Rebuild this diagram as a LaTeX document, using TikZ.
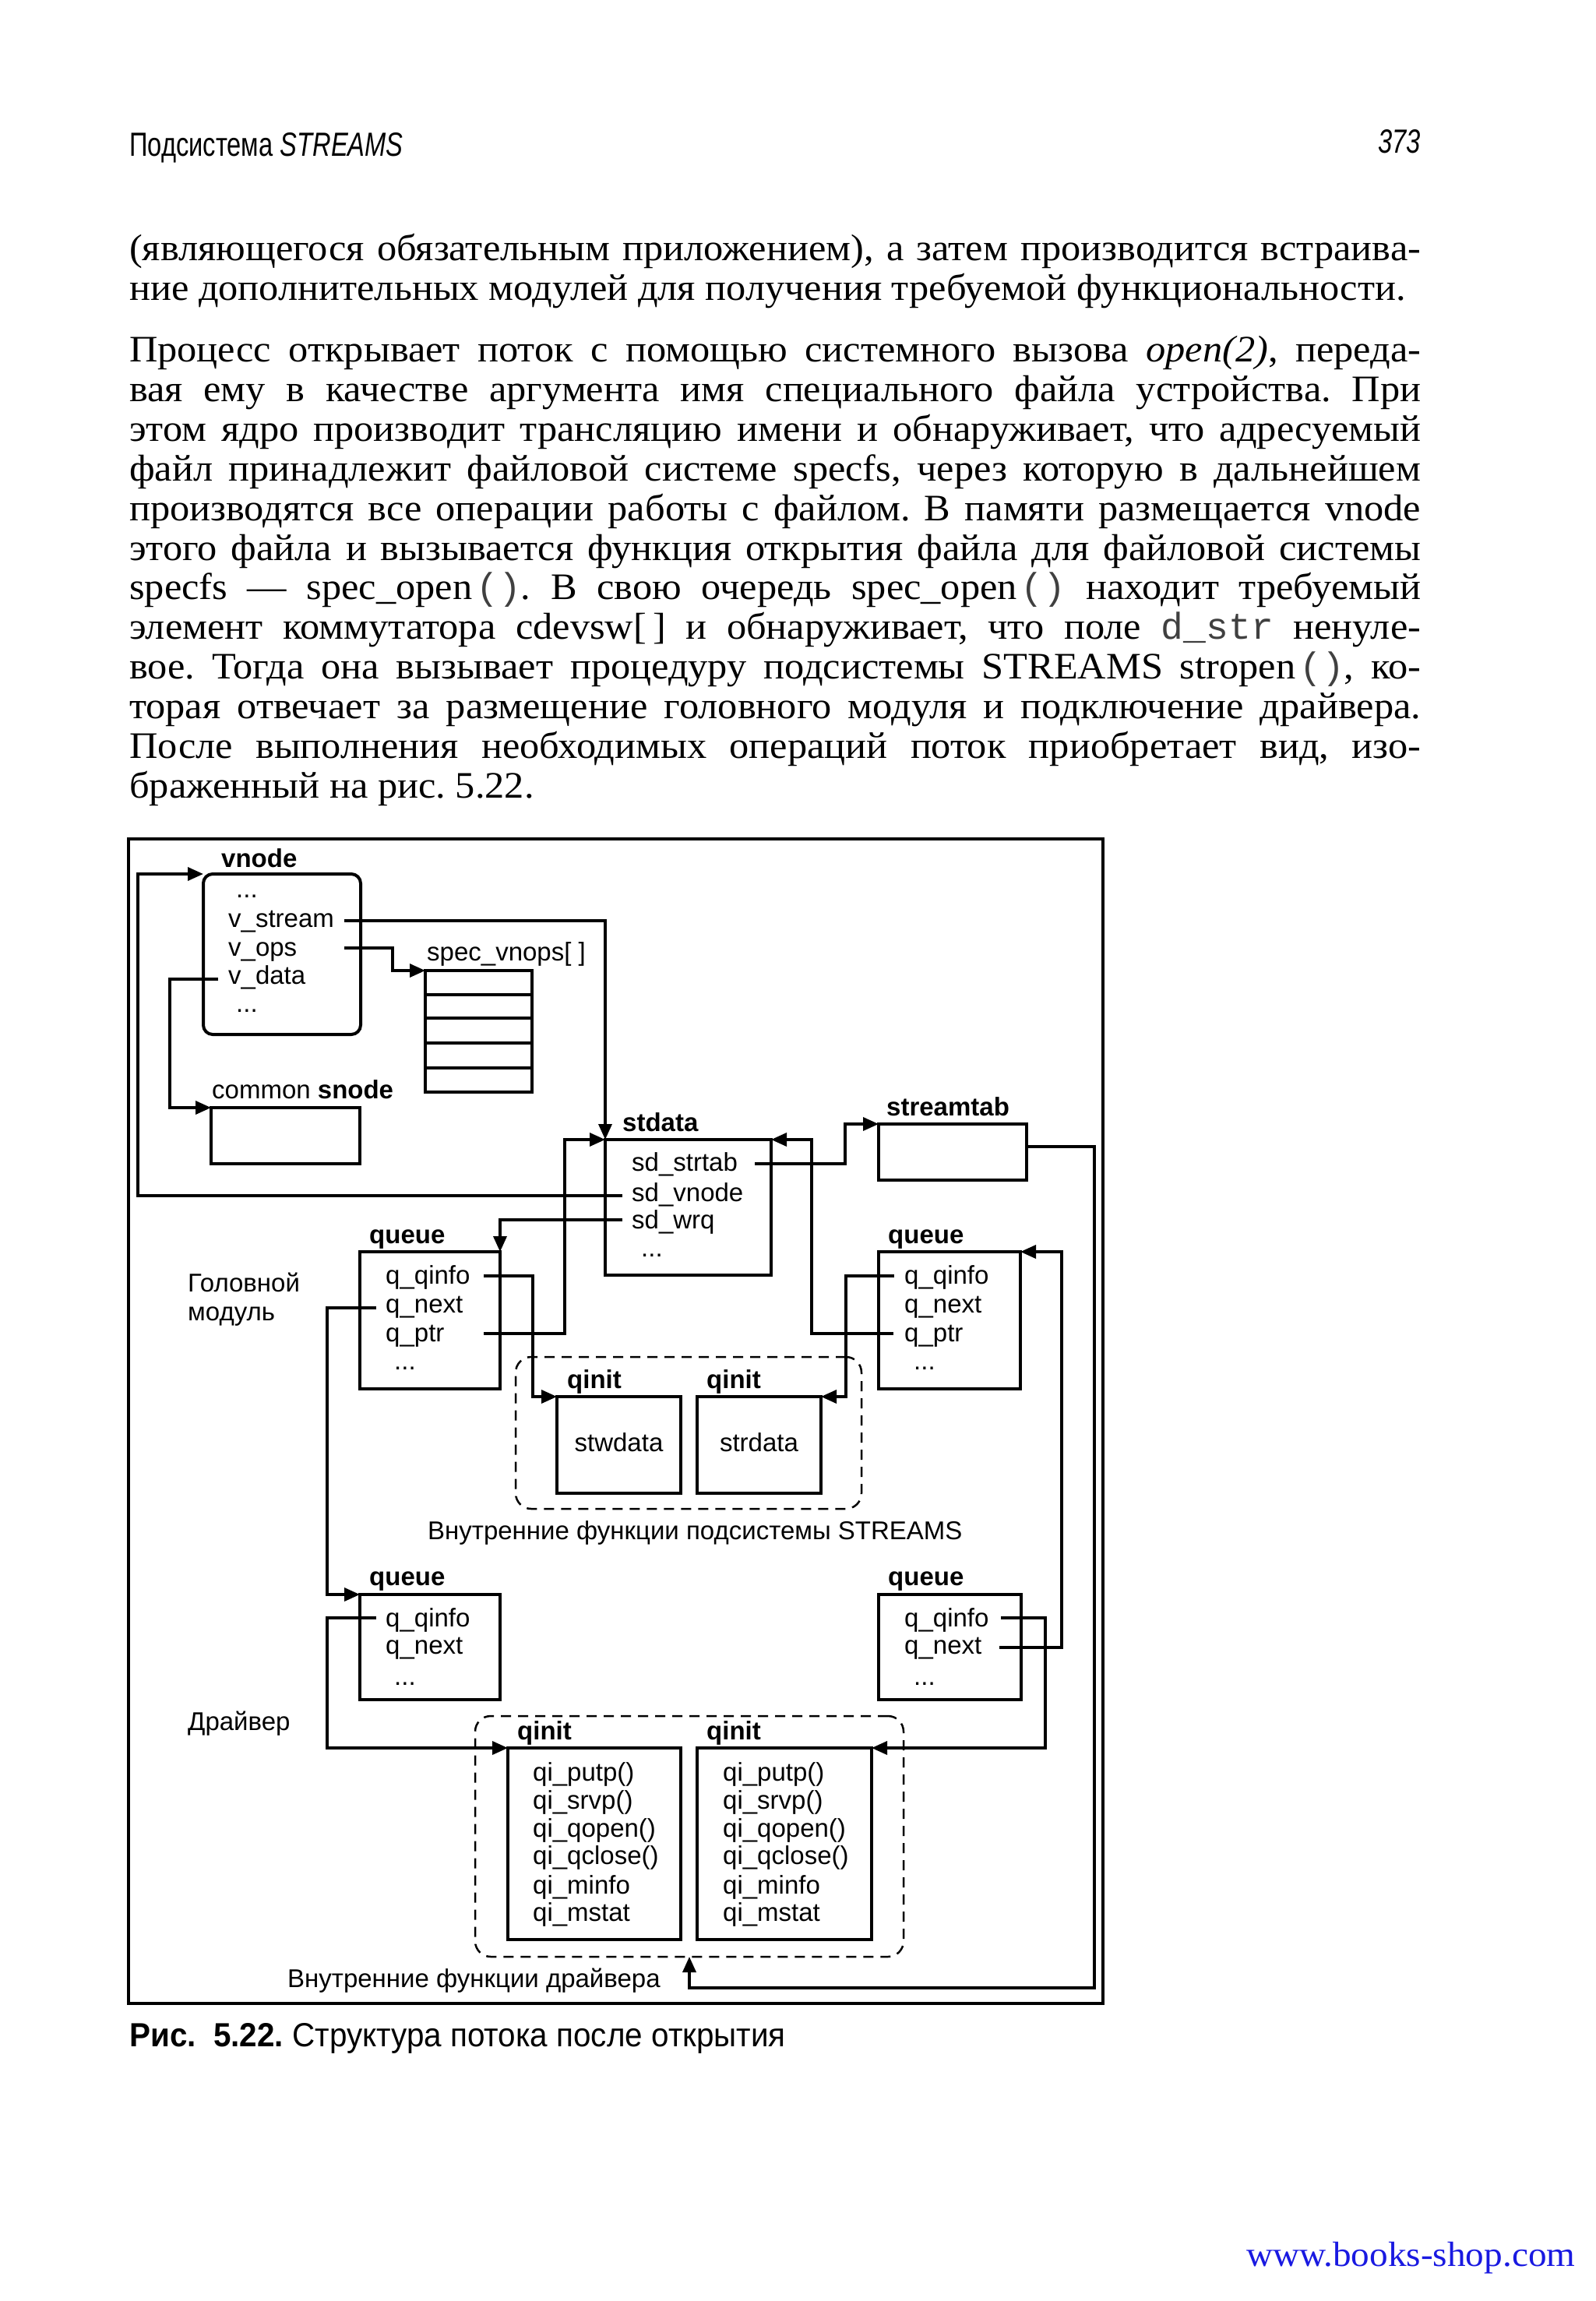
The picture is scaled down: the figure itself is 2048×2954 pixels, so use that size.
\documentclass[tikz,border=0pt]{standalone}
\usepackage{fontspec}
\setmainfont[FakeStretch=1.05]{Liberation Serif}
\newfontfamily\dsans{Liberation Sans}
\newfontfamily\hdrfont[FakeStretch=0.76]{Liberation Sans}
\newfontfamily\capfont[FakeStretch=0.94]{Liberation Sans}
\newfontfamily\monof{Liberation Mono}
\usetikzlibrary{arrows.meta,calc}
\definecolor{urlblue}{RGB}{25,25,225}
\frenchspacing
\tikzset{
 dtext/.style={inner sep=0pt, anchor=base west, font=\dsans\fontsize{33}{36}\selectfont},
 dbold/.style={inner sep=0pt, anchor=base west, font=\dsans\bfseries\fontsize{33}{36}\selectfont},
 boxnode/.style={draw, line width=4pt, inner sep=0pt, outer sep=0pt, anchor=north west},
 dashbox/.style={draw, line width=2.5pt, dash pattern=on 13pt off 9pt, rounded corners=20pt, inner sep=0pt, outer sep=0pt, anchor=north west},
 conn/.style={line width=3.5pt, -{Triangle[length=20pt,width=17pt]}},
 body/.style={inner sep=0pt, anchor=base west, font=\fontsize{48}{51}\selectfont},
}
\newcommand\jl[1]{\makebox[1658pt][s]{#1}}
\newcommand\pr{\kern5pt{\monof\color{black!75}()}}
\begin{document}
\begin{tikzpicture}[x=1pt,y=-1pt]
\fill[white] (0,0) rectangle (2048,2954);
\useasboundingbox (0,0) rectangle (2048,2954);

% ---------- page header ----------
\node[inner sep=0pt, anchor=base west, font=\hdrfont\fontsize{43}{43}\selectfont] (hdr) at (166,201) {Подсистема \textit{STREAMS}};
\node[inner sep=0pt, anchor=base east, font=\hdrfont\fontsize{43}{43}\selectfont] (pgno) at (1824,197) {\textit{373}};

% ---------- body text ----------
\node[body] (p1a) at (166,334) {\jl{(являющегося обязательным приложением), а затем производится встраива-}};
\node[body] (p1b) at (166,385) {ние дополнительных модулей для получения требуемой функциональности.};

\node[body] (p2a) at (166,464) {\jl{Процесс открывает поток с помощью системного вызова \textit{open(2)}, переда-}};
\node[body] (p2b) at (166,515) {\jl{вая ему в качестве аргумента имя специального файла устройства. При}};
\node[body] (p2c) at (166,566) {\jl{этом ядро производит трансляцию имени и обнаруживает, что адресуемый}};
\node[body] (p2d) at (166,617) {\jl{файл принадлежит файловой системе specfs, через которую в дальнейшем}};
\node[body] (p2e) at (166,668) {\jl{производятся все операции работы с файлом. В памяти размещается vnode}};
\node[body] (p2f) at (166,719) {\jl{этого файла и вызывается функция открытия файла для файловой системы}};
\node[body] (p2g) at (166,769) {\jl{specfs — spec\_open\pr. В свою очередь spec\_open\pr{} находит требуемый}};
\node[body] (p2h) at (166,820) {\jl{элемент коммутатора cdevsw[\,] и обнаруживает, что поле {\monof\color{black!75}d\_str} ненуле-}};
\node[body] (p2i) at (166,871) {\jl{вое. Тогда она вызывает процедуру подсистемы STREAMS stropen\pr, ко-}};
\node[body] (p2j) at (166,922) {\jl{торая отвечает за размещение головного модуля и подключение драйвера.}};
\node[body] (p2k) at (166,973) {\jl{После выполнения необходимых операций поток приобретает вид, изо-}};
\node[body] (p2l) at (166,1024) {браженный на рис. 5.22.};

% ---------- figure frame ----------
\draw[line width=4.5pt] (165,1077) rectangle (1416,2572);

% ---------- boxes ----------
\node[boxnode, rounded corners=12pt, minimum width=202pt, minimum height=206pt] (vnodeB) at (261,1122) {};
\node[boxnode, minimum width=137pt, minimum height=156pt] (specB) at (546,1246) {};
\foreach \yy in {1277,1307,1339,1371} \draw[line width=4pt] (546,\yy) -- (683,\yy);
\node[boxnode, minimum width=191pt, minimum height=72pt] (snodeB) at (271,1422) {};
\node[boxnode, minimum width=213pt, minimum height=174pt] (stdataB) at (777,1463) {};
\node[boxnode, minimum width=190pt, minimum height=72pt] (stabB) at (1128,1443) {};
\node[boxnode, minimum width=180pt, minimum height=176pt] (hqL) at (462,1607) {};
\node[boxnode, minimum width=182pt, minimum height=176pt] (hqR) at (1128,1607) {};
\node[boxnode, minimum width=159pt, minimum height=124pt] (stwB) at (715,1793) {};
\node[boxnode, minimum width=159pt, minimum height=124pt] (strB) at (895,1793) {};
\node[boxnode, minimum width=180pt, minimum height=135pt] (dqL) at (462,2047) {};
\node[boxnode, minimum width=183pt, minimum height=135pt] (dqR) at (1128,2047) {};
\node[boxnode, minimum width=222pt, minimum height=246pt] (diL) at (652,2244) {};
\node[boxnode, minimum width=224pt, minimum height=246pt] (diR) at (895,2244) {};
\node[dashbox, minimum width=444pt, minimum height=195pt] (sB) at (662,1742) {};
\node[dashbox, minimum width=550pt, minimum height=309pt] (dB) at (610,2203) {};

% ---------- texts ----------
\node[dbold] (tvnode) at (284,1113) {vnode};
\node[dtext] (vd1) at (303,1152) {...};
\node[dtext] (vstream) at (293,1190) {v\_stream};
\node[dtext] (vops) at (293,1227) {v\_ops};
\node[dtext] (vdata) at (293,1263) {v\_data};
\node[dtext] (vd2) at (303,1299) {...};
\node[dtext] (tspec) at (548,1233) {spec\_vnops[ ]};
\node[dtext] (tsnode) at (272,1410) {common \textbf{snode}};

\node[dbold] (tstdata) at (799,1452) {stdata};
\node[dtext] (sdstrtab) at (811,1503) {sd\_strtab};
\node[dtext] (sdvnode) at (811,1542) {sd\_vnode};
\node[dtext] (sdwrq) at (811,1577) {sd\_wrq};
\node[dtext] (sdd) at (823,1613) {...};
\node[dbold] (tstab) at (1138,1432) {streamtab};

\node[dtext] (tgol1) at (241,1658) {Головной};
\node[dtext] (tgol2) at (241,1695) {модуль};

\node[dbold] (thqL) at (474,1596) {queue};
\node[dtext] (hqLinfo) at (495,1648) {q\_qinfo};
\node[dtext] (hqLnext) at (495,1685) {q\_next};
\node[dtext] (hqLptr) at (495,1722) {q\_ptr};
\node[dtext] (hqLd) at (506,1758) {...};

\node[dbold] (thqR) at (1140,1596) {queue};
\node[dtext] (hqRinfo) at (1161,1648) {q\_qinfo};
\node[dtext] (hqRnext) at (1161,1685) {q\_next};
\node[dtext] (hqRptr) at (1161,1722) {q\_ptr};
\node[dtext] (hqRd) at (1173,1758) {...};

\node[dbold] (tqi1) at (728,1782) {qinit};
\node[dbold] (tqi2) at (907,1782) {qinit};
\node[dtext, anchor=base] (tstw) at (794.5,1863) {stwdata};
\node[dtext, anchor=base] (tstr) at (974.5,1863) {strdata};
\node[dtext] (tsfun) at (549,1976) {Внутренние функции подсистемы STREAMS};

\node[dbold] (tdqL) at (474,2035) {queue};
\node[dtext] (dqLinfo) at (495,2088) {q\_qinfo};
\node[dtext] (dqLnext) at (495,2123) {q\_next};
\node[dtext] (dqLd) at (506,2163) {...};

\node[dbold] (tdqR) at (1140,2035) {queue};
\node[dtext] (dqRinfo) at (1161,2088) {q\_qinfo};
\node[dtext] (dqRnext) at (1161,2123) {q\_next};
\node[dtext] (dqRd) at (1173,2163) {...};

\node[dtext] (tdrv) at (241,2221) {Драйвер};

\node[dbold] (tqi3) at (664,2233) {qinit};
\node[dbold] (tqi4) at (907,2233) {qinit};
\foreach \nm/\tx/\yy in {a/qi\_putp()/2286, b/qi\_srvp()/2322, c/qi\_qopen()/2358, d/qi\_qclose()/2393, e/qi\_minfo/2431, f/qi\_mstat/2466}{
  \node[dtext] (qiL\nm) at (684,\yy) {\tx};
  \node[dtext] (qiR\nm) at (928,\yy) {\tx};
}
\node[dtext] (tdfun) at (369,2551) {Внутренние функции драйвера};

% ---------- connector start points ----------
\coordinate (c-sdvnode) at (799,1535);
\coordinate (c-vstream) at (442,1182);
\coordinate (c-vops) at (442,1217);
\coordinate (c-vdata) at (280,1257);
\coordinate (c-sdstrtab) at (969,1494);
\coordinate (c-stab) at (1318,1472);
\coordinate (c-sdwrq) at (799,1566);
\coordinate (c-hqLinfo) at (621,1638);
\coordinate (c-hqLptr) at (621,1712);
\coordinate (c-hqLnext) at (483,1679);
\coordinate (c-hqRinfo) at (1148,1638);
\coordinate (c-hqRptr) at (1147,1712);
\coordinate (c-dqLinfo) at (483,2077);
\coordinate (c-dqRinfo) at (1285,2077);
\coordinate (c-dqRnext) at (1283,2115);

% ---------- connectors ----------
\draw[conn] (c-sdvnode) -- ++(-622,0) |- (vnodeB.north west);
\draw[conn] (c-vstream) -| (stdataB.north west);
\draw[conn] (c-vops) -- ++(62,0) |- (specB.north west);
\draw[conn] (c-vdata) -- ++(-62,0) |- (snodeB.north west);
\draw[conn] (c-sdstrtab) -- ++(116,0) |- (stabB.north west);
\draw[conn] (c-stab) -| ++(87,1080) -| (dB.south);
\draw[conn] (c-sdwrq) -| (hqL.north east);
\draw[conn] (c-hqLinfo) -- ++(63,0) |- (stwB.north west);
\draw[conn] (c-hqLptr) -- ++(104,0) |- (stdataB.north west);
\draw[conn] (c-hqLnext) -- ++(-63,0) |- (dqL.north west);
\draw[conn] (c-dqLinfo) -- ++(-63,0) |- (diL.north west);
\draw[conn] (c-hqRinfo) -- ++(-62,0) |- (strB.north east);
\draw[conn] (c-hqRptr) -- ++(-105,0) |- (stdataB.north east);
\draw[conn] (c-dqRnext) -- ++(80,0) |- (hqR.north east);
\draw[conn] (c-dqRinfo) -- ++(57,0) |- (diR.north east);

% ---------- caption and footer ----------
\node[inner sep=0pt, anchor=base west, font=\capfont\fontsize{43}{43}\selectfont] (cap) at (166,2627) {\textbf{Рис.\ \ 5.22.} Структура потока после открытия};
\node[inner sep=0pt, anchor=base west, font=\fontsize{45}{45}\selectfont, text=urlblue] (url) at (1600,2909) {www.books-shop.com};
\end{tikzpicture}
\end{document}
